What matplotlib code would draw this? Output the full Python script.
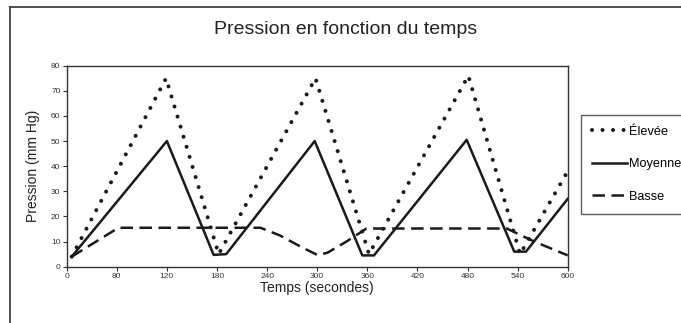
import numpy as np
import matplotlib
matplotlib.use('Agg')
import matplotlib.pyplot as plt
from matplotlib.lines import Line2D

plt.rcParams['font.family'] = ['Liberation Sans', 'DejaVu Sans']

# temps (s) et pression (mm Hg)
t_elevee = [6, 119, 182, 298, 362, 481, 543, 600]
p_elevee = [4, 75, 5, 75, 5, 76, 5, 38]

t_moyenne = [6, 120, 176, 191, 297, 354, 368, 479, 536, 550, 600]
p_moyenne = [4, 50, 4.7, 5, 50, 4.5, 4.5, 50.5, 6, 6, 27]

t_basse = [6, 62, 232, 255, 280, 300, 312, 335, 359, 527, 560, 600]
p_basse = [4, 15.5, 15.5, 12.5, 8, 4.7, 5.5, 10, 15.2, 15.2, 10, 4.5]

xticks = [0, 60, 120, 180, 240, 300, 360, 420, 480, 540, 600]
xtick_labels = ['0', '80', '120', '180', '240', '300', '360', '420', '480', '540', '600']
yticks = [0, 10, 20, 30, 40, 50, 60, 70, 80]

W, H = 681, 323
fig = plt.figure(figsize=(W / 100, H / 100), dpi=100)
ax = fig.add_axes([66.7 / W, 1 - 266.7 / H, 501 / W, 201 / H])

c = '#1a1a1a'
ax.plot(t_elevee, p_elevee, color=c, lw=2.9, linestyle=(0, (0.01, 2.6)),
        dash_capstyle='round', label='Élevée')
ax.plot(t_moyenne, p_moyenne, color=c, lw=1.8, label='Moyenne')
ax.plot(t_basse, p_basse, color=c, lw=1.8, linestyle=(0, (5, 2.6)), label='Basse')

ax.set_xlim(0, 600)
ax.set_ylim(0, 80)
ax.set_xticks(xticks)
ax.set_xticklabels(xtick_labels)
ax.set_yticks(yticks)
ax.tick_params(labelsize=6, length=3, width=0.8, pad=1.5, colors='#333333')
for s in ax.spines.values():
    s.set_linewidth(1.0)
    s.set_color('#333333')

ax.set_xlabel('Temps (secondes)', fontsize=10, labelpad=1, color='#222222')
ax.set_ylabel('Pression (mm Hg)', fontsize=10, labelpad=8, color='#222222')
fig.text(346 / W, 1 - 30 / H, 'Pression en fonction du temps', ha='center', va='center',
         fontsize=14, color='#222222')

# cadre exterieur (haut et gauche)
fig.add_artist(Line2D([10 / W, 10 / W], [0, 1 - 6.5 / H], transform=fig.transFigure,
                      color='#333333', lw=1.2))
fig.add_artist(Line2D([10 / W, 1], [1 - 6.5 / H, 1 - 6.5 / H], transform=fig.transFigure,
                      color='#333333', lw=1.2))

leg = fig.legend(loc='upper left', bbox_to_anchor=(580.7 / W, 1 - 115 / H, 130 / W, 0),
                 mode='expand', fontsize=9.2, frameon=True, fancybox=False,
                 handlelength=2.8, handletextpad=0.1, labelspacing=1.6,
                 borderpad=0.85, borderaxespad=0)
leg.get_frame().set_edgecolor('#333333')
leg.get_frame().set_linewidth(1.0)

fig.savefig('out.png', dpi=100)
